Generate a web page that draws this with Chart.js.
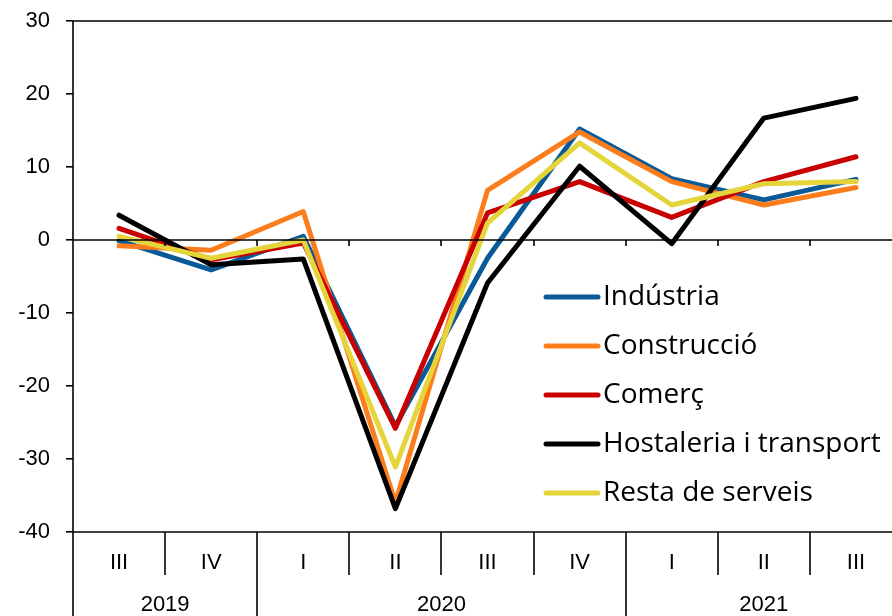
<!DOCTYPE html>
<html>
<head>
<meta charset="utf-8">
<script src="https://cdn.jsdelivr.net/npm/chart.js@4.4.1/dist/chart.umd.min.js"></script>
<style>
  body { margin: 0; background: #fff; }
  #wrap { width: 892px; height: 616px; overflow: hidden; }
</style>
</head>
<body>
<div id="wrap"><canvas id="chart" width="902" height="616"></canvas></div>
<script>
(function() {

  "use strict";

  var quarters = ["III", "IV", "I", "II", "III", "IV", "I", "II", "III"];
  var years = ["2019", "2019", "2020", "2020", "2020", "2020", "2021", "2021", "2021"];
  var yTicks = [-40, -30, -20, -10, 0, 10, 20, 30];

  var industria    = [-0.1, -4.1, 0.5, -25.5, -2.5, 15.2, 8.4, 5.5, 8.3];
  var construccio  = [-0.8, -1.4, 3.9, -36.0, 6.8, 14.8, 8.0, 4.8, 7.2];
  var comerc       = [1.6, -2.7, -0.4, -25.8, 3.7, 8.0, 3.1, 8.0, 11.4];
  var hostaleria   = [3.4, -3.4, -2.6, -36.8, -5.9, 10.1, -0.5, 16.7, 19.4];
  var restaServeis = [0.5, -2.5, 0.0, -31.1, 2.3, 13.3, 4.8, 7.7, 8.0];

  var seriesNames = ["Indústria", "Construcció", "Comerç", "Hostaleria i transport", "Resta de serveis"];
  var seriesColors = ["#0b5a98", "#fb7d1c", "#c80000", "#000000", "#e5d43a"];
  var seriesData = [industria, construccio, comerc, hostaleria, restaServeis];

  var axisFont = { family: "'Liberation Sans', Arial, sans-serif", size: 22 };

  // axis frame, zero line, two-level category separators and year labels
  var framePlugin = {
    id: "frame",
    afterDraw: function(chart) {
      var ctx = chart.ctx, a = chart.chartArea;
      var x = chart.scales.x, y = chart.scales.y;
      var y0 = y.getPixelForValue(0);
      var H = chart.height;
      ctx.save();
      ctx.strokeStyle = "#000";
      ctx.lineWidth = 1.6;
      ctx.lineCap = "butt";
      function line(x1, y1, x2, y2) {
        ctx.beginPath(); ctx.moveTo(x1, y1); ctx.lineTo(x2, y2); ctx.stroke();
      }
      line(a.left, a.top, a.right, a.top);
      line(a.left, y0, a.right, y0);
      line(a.left, a.bottom, a.right, a.bottom);
      line(a.left, a.top, a.left, H);
      for (var i = 1; i < quarters.length; i++) {
        var bx = Math.round((x.getPixelForValue(i - 1) + x.getPixelForValue(i)) / 2);
        line(bx, y0, bx, y0 + 6);
        var yearEdge = years[i] !== years[i - 1];
        line(bx, a.bottom, bx, yearEdge ? H : a.bottom + 43);
      }
      ctx.fillStyle = "#000";
      ctx.font = axisFont.size + "px " + axisFont.family;
      ctx.textAlign = "center";
      ctx.textBaseline = "middle";
      var start = 0;
      for (var j = 1; j <= years.length; j++) {
        if (j === years.length || years[j] !== years[start]) {
          var cx = (x.getPixelForValue(start) + x.getPixelForValue(j - 1)) / 2;
          ctx.fillText(years[start], cx, a.bottom + 73);
          start = j;
        }
      }
      ctx.restore();
    }
  };

  // legend drawn inside the plot area
  var legendPlugin = {
    id: "innerLegend",
    afterDraw: function(chart) {
      var ctx = chart.ctx;
      ctx.save();
      ctx.font = "28px 'Open Sans', sans-serif";
      ctx.textAlign = "left";
      ctx.textBaseline = "middle";
      chart.data.datasets.forEach(function(ds, i) {
        var ly = 297 + 49 * i;
        ctx.strokeStyle = ds.borderColor;
        ctx.lineWidth = 5;
        ctx.lineCap = "round";
        ctx.beginPath(); ctx.moveTo(546, ly); ctx.lineTo(598, ly); ctx.stroke();
        ctx.fillStyle = "#000";
        ctx.fillText(ds.label, 603, ly);
      });
      ctx.restore();
    }
  };

  var datasets = seriesNames.map(function(name, i) {
    return {
      label: name,
      data: seriesData[i],
      borderColor: seriesColors[i],
      backgroundColor: seriesColors[i],
      borderWidth: 5,
      pointRadius: 0,
      tension: 0,
      borderJoinStyle: "round",
      borderCapStyle: "round",
      order: seriesNames.length - i
    };
  });

  new Chart(document.getElementById("chart"), {
    type: "line",
    data: { labels: quarters, datasets: datasets },
    plugins: [framePlugin, legendPlugin],
    options: {
      responsive: false,
      animation: false,
      devicePixelRatio: 1,
      layout: { padding: { top: 21, right: 0, left: 0, bottom: 0 } },
      plugins: { legend: { display: false }, tooltip: { enabled: false } },
      scales: {
        x: {
          type: "category",
          offset: true,
          grid: { display: false, drawTicks: false },
          border: { display: false },
          ticks: { color: "#000", font: axisFont, padding: 18, maxRotation: 0, autoSkip: false },
          afterFit: function(scale) {
            scale.height = 84;
            scale.paddingLeft = 0;
            scale.paddingRight = 0;
          }
        },
        y: {
          min: -40,
          max: 30,
          afterBuildTicks: function(scale) {
            scale.ticks = yTicks.map(function(v) { return { value: v }; });
          },
          grid: { drawOnChartArea: false, drawTicks: true, tickLength: 7, color: "#000", lineWidth: 1.6 },
          border: { display: false },
          ticks: { color: "#000", font: axisFont, padding: 16 },
          afterFit: function(scale) {
            scale.width = 73;
            scale.paddingTop = 0;
            scale.paddingBottom = 0;
          }
        }
      }
    }
  });

})();
</script>
</body>
</html>
